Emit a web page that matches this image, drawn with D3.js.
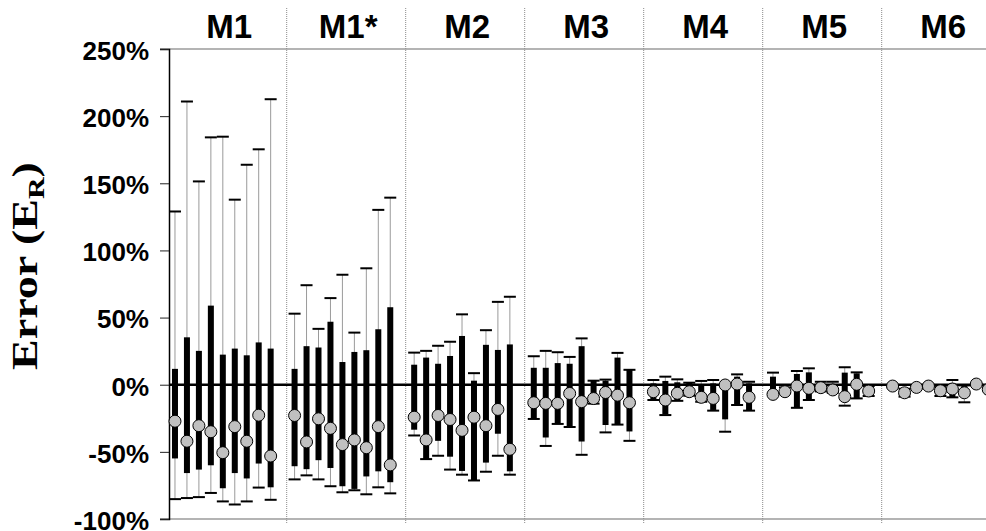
<!DOCTYPE html>
<html>
<head>
<meta charset="utf-8">
<script src="https://cdn.jsdelivr.net/npm/d3@7"></script>
<style>
  html, body { margin: 0; padding: 0; background: #fff; }
  svg { display: block; }
</style>
</head>
<body>
<svg id="chart" width="986" height="531"></svg>
<script>
// Relative error of each method, nine cases per method.
const methods = ["M1", "M1*", "M2", "M3", "M4", "M5", "M6"];
const yTicks = [-100, -50, 0, 50, 100, 150, 200, 250];

// Whisker maxima (%)
const whiskerHigh = [
  129.0, 210.9, 151.4, 184.2, 184.7, 137.8, 163.8, 175.3, 212.6,
  52.9, 74.1, 41.6, 64.5, 81.9, 38.8, 86.7, 130.2, 139.3,
  23.9, 25.2, 29.0, 32.0, 52.4, 8.6, 40.6, 61.7, 65.5,
  21.2, 25.2, 24.2, 20.7, 34.5, 3.0, 3.8, 23.7, 11.1,
  3.5, 6.0, 4.0, 1.5, 2.8, 3.5, 0.5, 7.7, 2.2,
  9.0, -2.0, 10.2, 12.2, 2.2, 2.2, 13.0, 9.2, -1.0,
  -1.0, -3.0, -1.5, -1.0, -1.0, 3.5, -0.5, 0.5, -2.0
];
// Upper edge of the thick bar (%)
const boxHigh = [
  11.8, 35.3, 25.2, 58.9, 22.4, 26.9, 21.9, 31.5, 26.9,
  11.8, 28.7, 27.7, 46.9, 16.9, 24.4, 25.7, 41.3, 57.7,
  14.9, 20.2, 15.6, 21.4, 36.3, 3.0, 29.7, 25.9, 30.0,
  12.6, 12.6, 16.1, 15.6, 28.7, 3.0, 3.0, 20.2, 11.1,
  1.0, 2.8, 1.8, 1.5, 0.5, 1.0, 0.0, 6.0, 1.0,
  6.0, -3.0, 8.0, 9.2, 0.5, 0.5, 9.0, 8.5, -2.0,
  -1.0, -3.5, -1.5, -1.0, -2.0, 1.0, -1.0, 0.5, -2.0
];
// Marker value (%)
const centre = [
  -27.2, -42.1, -30.5, -35.0, -50.6, -31.2, -42.1, -22.7, -53.1,
  -22.9, -42.6, -25.4, -32.5, -44.6, -41.1, -46.9, -31.2, -59.7,
  -24.2, -41.1, -22.9, -25.9, -34.0, -24.2, -30.5, -18.4, -48.1,
  -13.4, -13.9, -13.9, -6.5, -12.6, -10.3, -5.8, -7.8, -13.4,
  -5.2, -11.4, -6.4, -5.2, -9.4, -10.2, -0.2, 0.5, -9.4,
  -7.2, -5.2, -1.0, -2.7, -2.2, -3.9, -8.9, 0.3, -4.7,
  -1.0, -6.0, -2.0, -1.0, -4.5, -3.2, -6.0, 0.5, -3.5
];
// Lower edge of the thick bar (%)
const boxLow = [
  -54.9, -65.8, -63.2, -60.0, -77.1, -65.8, -69.8, -58.7, -76.4,
  -60.7, -62.9, -56.2, -62.0, -75.6, -77.6, -68.3, -64.5, -72.6,
  -33.5, -55.4, -41.8, -53.6, -64.2, -71.3, -58.0, -36.5, -64.5,
  -25.5, -39.3, -29.2, -31.5, -42.3, -14.1, -30.0, -29.7, -34.8,
  -10.9, -22.0, -11.9, -8.2, -12.7, -18.8, -25.8, -15.1, -19.3,
  -5.0, -5.5, -16.8, -10.9, -4.0, -5.5, -12.6, -10.2, -6.5,
  -1.5, -6.5, -2.5, -1.5, -6.0, -9.4, -8.0, 0.0, -4.0
];
// Whisker minima (%)
const whiskerLow = [
  -85.2, -84.4, -83.7, -80.6, -86.9, -89.2, -86.9, -76.6, -85.7,
  -70.5, -67.5, -70.5, -75.6, -80.1, -78.6, -81.6, -76.4, -80.9,
  -37.8, -55.4, -52.9, -63.2, -67.0, -71.3, -64.8, -52.9, -67.0,
  -25.5, -45.6, -29.2, -31.5, -52.2, -14.1, -35.5, -29.7, -41.8,
  -11.4, -22.6, -12.0, -8.2, -12.7, -19.3, -35.0, -15.1, -19.3,
  -7.0, -6.0, -17.2, -11.4, -5.0, -6.0, -15.6, -10.2, -8.4,
  -2.0, -8.9, -3.0, -2.0, -8.4, -9.4, -13.1, -0.5, -4.5
];

const perMethod = 9;      // cases drawn per method
const slotsPerMethod = 10; // one empty slot closes each block

const rows = whiskerHigh.map((hi, j) => ({
  slot: Math.floor(j / perMethod) * slotsPerMethod + (j % perMethod),
  hi, qHi: boxHigh[j], mid: centre[j], qLo: boxLow[j], lo: whiskerLow[j]
}));

const svg = d3.select("#chart");
const W = 986, H = 531;

// Scales
const y = d3.scaleLinear().domain([-100, 250]).range([519, 49]);
const x = d3.scaleLinear().domain([0, methods.length * slotsPerMethod]).range([169, 169 + 70 * 11.96]);
const blocks = d3.scaleLinear().domain([0, methods.length]).range([167.7, 167.7 + 7 * 119]);

const plotLeft = 169, plotRight = W;

// Frame lines top and bottom
svg.append("line")
  .attr("x1", 160).attr("x2", plotRight)
  .attr("y1", y(250)).attr("y2", y(250))
  .attr("stroke", "#b4b4b4").attr("stroke-width", 2);
svg.append("line")
  .attr("x1", 160).attr("x2", plotRight)
  .attr("y1", y(-100)).attr("y2", y(-100))
  .attr("stroke", "#b4b4b4").attr("stroke-width", 2);

// Dotted separators between methods
svg.append("g").selectAll("line")
  .data(d3.range(1, methods.length))
  .join("line")
  .attr("x1", d => blocks(d)).attr("x2", d => blocks(d))
  .attr("y1", 8).attr("y2", 524)
  .attr("stroke", "#8a8a8a").attr("stroke-width", 1)
  .attr("stroke-dasharray", "1,1");

// Method labels
svg.append("g").selectAll("text")
  .data(methods)
  .join("text")
  .attr("x", (d, i) => blocks(i + 0.5) + 2)
  .attr("y", 38)
  .attr("text-anchor", "middle")
  .attr("font-family", "Liberation Sans, Arial, sans-serif")
  .attr("font-weight", "bold")
  .attr("font-size", 33)
  .attr("fill", "#000")
  .text(d => d);

// Y axis
const yAxis = d3.axisLeft(y).tickValues(yTicks).tickFormat(d => d + "%").tickSize(9).tickPadding(11);
const gy = svg.append("g").attr("transform", `translate(${plotLeft},0)`).call(yAxis);
gy.select(".domain").attr("stroke", "#000").attr("stroke-width", 1.5);
gy.selectAll(".tick line").attr("stroke", "#222").attr("stroke-width", 1);
gy.selectAll(".tick text")
  .attr("font-family", "Liberation Sans, Arial, sans-serif")
  .attr("font-weight", "bold")
  .attr("font-size", 26)
  .attr("fill", "#000")
  .attr("dy", "0.40em");

// Y axis title (glyphs slightly compressed across the baseline)
const title = svg.append("text")
  .attr("transform", `translate(37,266) rotate(-90) scale(1,0.78)`)
  .attr("text-anchor", "middle")
  .attr("font-family", "Liberation Serif, 'Times New Roman', serif")
  .attr("font-weight", "bold")
  .attr("font-size", 46)
  .attr("fill", "#000");
title.append("tspan").text("Error (E");
title.append("tspan").attr("font-size", 30).attr("dy", 9).text("R");
title.append("tspan").attr("dy", -9).text(")");

// Whiskers
const cx = d => x(d.slot + 0.5);
const marks = svg.append("g");
marks.selectAll("line.whisker")
  .data(rows)
  .join("line")
  .attr("class", "whisker")
  .attr("x1", cx).attr("x2", cx)
  .attr("y1", d => y(d.hi)).attr("y2", d => y(d.lo))
  .attr("stroke", "#9a9a9a").attr("stroke-width", 1);

// Whisker caps
marks.selectAll("line.capHi")
  .data(rows)
  .join("line")
  .attr("class", "capHi")
  .attr("x1", d => cx(d) - 6).attr("x2", d => cx(d) + 6)
  .attr("y1", d => y(d.hi)).attr("y2", d => y(d.hi))
  .attr("stroke", "#000").attr("stroke-width", 2);
marks.selectAll("line.capLo")
  .data(rows)
  .join("line")
  .attr("class", "capLo")
  .attr("x1", d => cx(d) - 6).attr("x2", d => cx(d) + 6)
  .attr("y1", d => y(d.lo)).attr("y2", d => y(d.lo))
  .attr("stroke", "#000").attr("stroke-width", 2);

// Thick bars
marks.selectAll("rect.box")
  .data(rows)
  .join("rect")
  .attr("class", "box")
  .attr("x", d => cx(d) - 3)
  .attr("width", 6)
  .attr("y", d => y(d.qHi))
  .attr("height", d => Math.max(0, y(d.qLo) - y(d.qHi)))
  .attr("fill", "#000");

// Zero line
svg.append("line")
  .attr("x1", plotLeft).attr("x2", plotRight)
  .attr("y1", y(0)).attr("y2", y(0))
  .attr("stroke", "#000").attr("stroke-width", 2.5);

// Markers
svg.append("g").selectAll("circle")
  .data(rows)
  .join("circle")
  .attr("cx", cx)
  .attr("cy", d => y(d.mid))
  .attr("r", 6)
  .attr("fill", "#c0c0c0")
  .attr("stroke", "#000")
  .attr("stroke-width", 1);
</script>
</body>
</html>
